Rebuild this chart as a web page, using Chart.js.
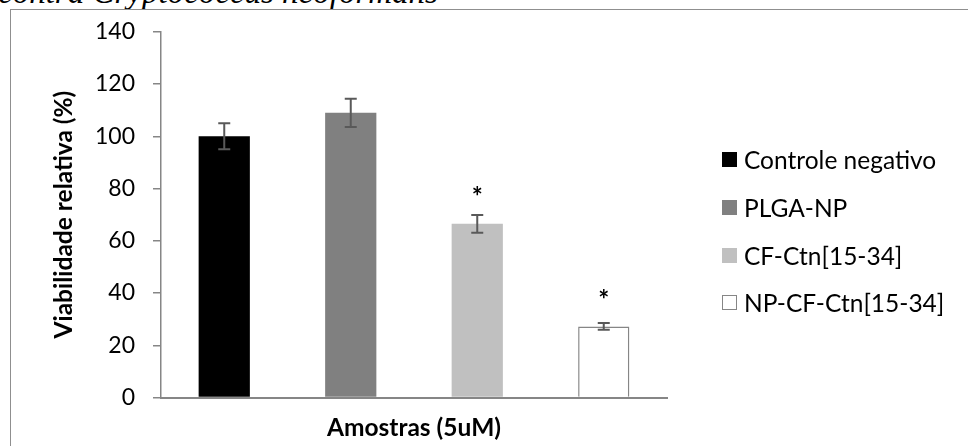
<!DOCTYPE html>
<html>
<head>
<meta charset="utf-8">
<script src="https://cdn.jsdelivr.net/npm/chart.js@4"></script>
<style>
  html, body { margin: 0; padding: 0; background: #fff; }
  body { width: 968px; height: 446px; position: relative; overflow: hidden; font-family: Lato, "Open Sans", sans-serif; }
  #caption { position: absolute; left: 0; top: 0; }
  #frame { position: absolute; left: 10px; top: 9px; width: 1000px; height: 500px; border-left: 1.5px solid #8f8f8f; border-top: 1.5px solid #8f8f8f; background: transparent; }
  #chart { position: absolute; left: 0; top: 0; }
  #legend { position: absolute; left: 0; top: 0; }
  .entry { position: absolute; left: 722px; height: 28px; display: flex; align-items: center; white-space: nowrap; font-size: 24.5px; color: #000; }
  .swatch { width: 15px; height: 15px; box-sizing: border-box; margin-right: 7px; }
</style>
</head>
<body>
<svg id="caption" width="968" height="20"><text x="-2" y="2.5" font-family="Liberation Serif, DejaVu Serif, serif" font-style="italic" font-size="33" fill="#000">contra Cryptococcus neoformans</text></svg>
<div id="frame"></div>
<canvas id="chart" width="968" height="446"></canvas>
<div id="legend"></div>
<script>
// Relative viability of samples at 5 uM
const categories = [''];
const series = ['Controle negativo', 'PLGA-NP', 'CF-Ctn[15-34]', 'NP-CF-Ctn[15-34]'];
const viability = [100, 109, 66.5, 27.2];
const errors = [5, 5.4, 3.4, 1.3];
const significance = ['', '', '*', '*'];
const yTicks = [0, 20, 40, 60, 80, 100, 120, 140];

const fills = ['#000000', '#808080', '#c0c0c0', '#ffffff'];
const edges = ['#000000', '#808080', '#c0c0c0', '#868686'];
const FONT = 'Lato, "Open Sans", sans-serif';

// Error bars and significance marks, positioned through the chart's scales
const errorBars = {
  id: 'errorBars',
  afterDatasetsDraw(chart) {
    const { ctx } = chart;
    const y = chart.scales.y;
    ctx.save();
    chart.data.datasets.forEach((ds, i) => {
      const bar = chart.getDatasetMeta(i).data[0];
      if (!bar) return;
      const x = bar.x;
      const v = viability[i], e = errors[i];
      const top = y.getPixelForValue(v + e);
      const bottom = y.getPixelForValue(v - e);
      ctx.strokeStyle = '#595959';
      ctx.lineWidth = 2;
      ctx.beginPath();
      ctx.moveTo(x, top); ctx.lineTo(x, bottom);
      ctx.moveTo(x - 6, top); ctx.lineTo(x + 6, top);
      ctx.moveTo(x - 6, bottom); ctx.lineTo(x + 6, bottom);
      ctx.stroke();
      if (significance[i]) {
        ctx.fillStyle = '#000';
        ctx.font = 'bold 26px ' + FONT;
        ctx.textAlign = 'center';
        ctx.textBaseline = 'middle';
        ctx.fillText(significance[i], x, y.getPixelForValue(v) - 26);
      }
    });
    ctx.restore();
  }
};

const chart = new Chart(document.getElementById('chart'), {
  type: 'bar',
  data: {
    labels: categories,
    datasets: series.map((name, i) => ({
      label: name,
      data: [viability[i]],
      backgroundColor: fills[i],
      borderColor: edges[i],
      borderWidth: i === 3 ? 1.5 : 0,
      categoryPercentage: 1,
      barPercentage: 0.405
    }))
  },
  options: {
    responsive: false,
    animation: false,
    devicePixelRatio: 1,
    layout: { padding: { left: 40, top: 28, right: 301, bottom: 0 } },
    plugins: { legend: { display: false }, tooltip: { enabled: false } },
    scales: {
      x: {
        afterFit(s) { s.height = 48.5; },
        ticks: { display: false },
        grid: { display: false },
        border: { display: true, color: '#868686', width: 2 },
        title: {
          display: true,
          text: 'Amostras (5uM)',
          color: '#000',
          font: { family: FONT, size: 24.5, weight: 'bold' },
          padding: { top: 0, bottom: 3.3 }
        }
      },
      y: {
        min: 0,
        max: 140,
        afterFit(s) { s.width = 121; },
        afterBuildTicks(s) { s.ticks = yTicks.map(v => ({ value: v })); },
        ticks: { color: '#000', padding: 18, font: { family: FONT, size: 23 } },
        grid: { drawOnChartArea: false, drawTicks: true, tickLength: 8, color: '#868686', lineWidth: 1.5 },
        border: { display: true, color: '#868686', width: 1.5 },
        title: {
          display: true,
          text: 'Viabilidade relativa (%)',
          color: '#000',
          font: { family: FONT, size: 24.5, weight: 'bold' },
          padding: { top: 9.3, bottom: 0 }
        }
      }
    }
  },
  plugins: [errorBars]
});

// Legend built from the chart's datasets
const legendRows = [159, 207, 255, 302];
const legend = document.getElementById('legend');
chart.data.datasets.forEach((ds, i) => {
  const row = document.createElement('div');
  row.className = 'entry';
  row.style.top = (legendRows[i] - 14) + 'px';
  const sw = document.createElement('span');
  sw.className = 'swatch';
  sw.style.background = ds.backgroundColor;
  sw.style.border = i === 3 ? '1px solid #868686' : 'none';
  const label = document.createElement('span');
  label.textContent = ds.label;
  row.appendChild(sw);
  row.appendChild(label);
  legend.appendChild(row);
});
</script>
</body>
</html>
